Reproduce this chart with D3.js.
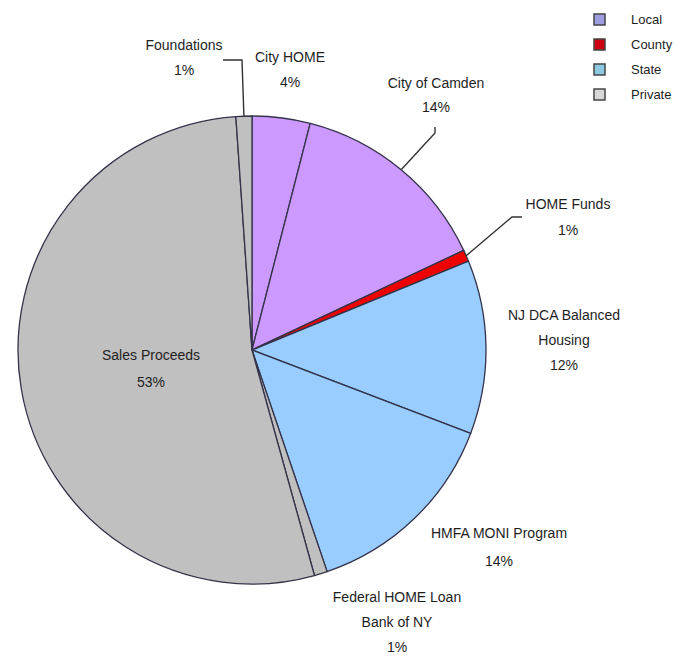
<!DOCTYPE html>
<html lang="en">
<head>
<meta charset="utf-8">
<title>Funding Sources Pie</title>
<script type="text/javascript" src="https://cdn.jsdelivr.net/npm/d3@7"></script>
<style>
  body {
    margin: 0;
    background: #fff;
  }

  text {
    font-family: "Liberation Sans", Arial, sans-serif;
    fill: #1e1e1e;
  }
</style>
</head>
<body>
<div id="bod"></div>
<script type="text/javascript">
  // slice names (each may wrap onto several lines), values in percent, and funding type
  const sliceNames = [
    ["City HOME"],
    ["City of Camden"],
    ["HOME Funds"],
    ["NJ DCA Balanced", "Housing"],
    ["HMFA MONI Program"],
    ["Federal HOME Loan", "Bank of NY"],
    ["Sales Proceeds"],
    ["Foundations"]
  ]
  const sliceValues = [4, 14, 0.8, 12, 14, 0.9, 53.2, 1.1]
  const sliceLabels = ["4%", "14%", "1%", "12%", "14%", "1%", "53%", "1%"]
  const sliceTypes = ["Local", "Local", "County", "State", "State", "Private", "Private", "Private"]

  const typeNames = ["Local", "County", "State", "Private"]
  const typeColors = ["#cc99ff", "#ee0000", "#99ccff", "#c0c0c0"]
  const legendColors = ["#9d9de0", "#cc0010", "#8cc8e0", "#d8d8d8"]

  // where each label sits (x, y of the first line) and the leader line bend, if any
  const labelPos = [
    [290, 62], [436, 88], [568, 209], [564, 320],
    [499, 538], [397, 602], [151, 360], [184, 50]
  ]
  const lineGaps = [25, 24, 26, 25, 28, 25, 27, 25]
  const leaders = {
    1: [[435, 133], [435, 127]],
    2: [[512, 217], [522, 217]],
    7: [[242, 60], [223, 60]]
  }

  const width = 685
  const height = 658
  const cx = 252
  const cy = 350
  const radius = 234

  const color = d3.scaleOrdinal().domain(typeNames).range(typeColors)
  const legendColor = d3.scaleOrdinal().domain(typeNames).range(legendColors)

  const data = sliceValues.map((v, i) => ({
    name: sliceNames[i], value: v, label: sliceLabels[i], type: sliceTypes[i]
  }))

  const pie = d3.pie()
    .sort(null)
    .value(d => d.value)

  const arc = d3.arc()
    .innerRadius(0)
    .outerRadius(radius)

  // arc with zero width at the rim, used for the start of the leader lines
  const rimArc = d3.arc()
    .innerRadius(radius)
    .outerRadius(radius)

  const svg = d3.select("#bod")
    .append("svg")
    .attr("width", width)
    .attr("height", height)

  const g = svg.append("g")
    .attr("transform", "translate(" + cx + "," + cy + ")")

  const arcs = pie(data)

  g.selectAll("path.slice")
    .data(arcs)
    .enter()
    .append("path")
      .attr("class", "slice")
      .attr("d", arc)
      .attr("fill", d => color(d.data.type))
      .attr("stroke", "#33334a")
      .attr("stroke-width", 1.3)
      .attr("stroke-linejoin", "round")

  // leader lines from the rim to the labels
  const lineGen = d3.line()
  arcs.forEach((d, i) => {
    const bend = leaders[i]
    if (!bend) return
    const start = rimArc.centroid(d)
    const pts = [[start[0] + cx, start[1] + cy]].concat(bend)
    svg.append("path")
      .attr("d", lineGen(pts))
      .attr("fill", "none")
      .attr("stroke", "#333")
      .attr("stroke-width", 1.4)
  })

  // labels
  arcs.forEach((d, i) => {
    const t = svg.append("text")
      .attr("x", labelPos[i][0])
      .attr("y", labelPos[i][1])
      .attr("text-anchor", "middle")
      .style("font-size", "14px")
    const lines = d.data.name.concat([d.data.label])
    lines.forEach((l, j) => {
      t.append("tspan")
        .attr("x", labelPos[i][0])
        .attr("dy", j === 0 ? 0 : lineGaps[i])
        .text(l)
    })
  })

  // legend
  const legend = svg.append("g")
    .attr("transform", "translate(594,14)")

  const legendY = d3.scalePoint()
    .domain(typeNames)
    .range([0, 75])

  const item = legend.selectAll("g")
    .data(typeNames)
    .enter()
    .append("g")
      .attr("transform", d => "translate(0," + legendY(d) + ")")

  item.append("rect")
    .attr("width", 11)
    .attr("height", 11)
    .attr("fill", d => legendColor(d))
    .attr("stroke", "#444")
    .attr("stroke-width", 1.5)

  item.append("text")
    .attr("x", 37)
    .attr("y", 10)
    .style("font-size", "13px")
    .text(d => d)
</script>
</body>
</html>
